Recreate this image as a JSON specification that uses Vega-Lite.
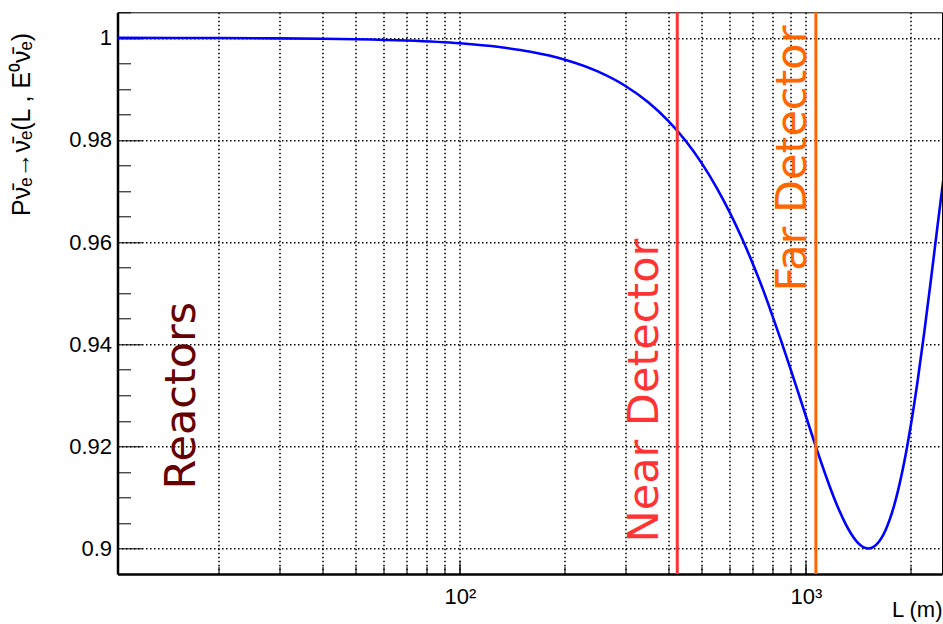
{
  "$schema": "https://vega.github.io/schema/vega-lite/v6.json",
  "width": 824.5,
  "height": 561.7,
  "autosize": "none",
  "padding": {"left": 117.5, "top": 12.3, "right": 1, "bottom": 50},
  "background": "white",
  "config": {
    "view": {"stroke": "#000", "strokeWidth": 1},
    "axis": {
      "tickColor": "#000",
      "domainColor": "#000",
      "labelColor": "#000",
      "titleColor": "#000",
      "labelFont": "Liberation Sans",
      "titleFont": "Liberation Sans",
      "labelFontSize": 22,
      "titleFontSize": 22,
      "titleFontWeight": "normal",
      "labelOverlap": false
    }
  },
  "datasets": {
    "curve": [
      {"L": 10, "P": 0.99999}, {"L": 15, "P": 0.99998}, {"L": 20, "P": 0.99996},
      {"L": 30, "P": 0.9999}, {"L": 40, "P": 0.99983}, {"L": 50, "P": 0.99973},
      {"L": 70, "P": 0.99947}, {"L": 100, "P": 0.99893}, {"L": 130, "P": 0.99819},
      {"L": 160, "P": 0.99727}, {"L": 200, "P": 0.99576}, {"L": 250, "P": 0.99342},
      {"L": 300, "P": 0.99062}, {"L": 350, "P": 0.98738}, {"L": 400, "P": 0.98374},
      {"L": 450, "P": 0.97974}, {"L": 500, "P": 0.97542}, {"L": 550, "P": 0.97083},
      {"L": 600, "P": 0.96602}, {"L": 650, "P": 0.96105}, {"L": 700, "P": 0.95596},
      {"L": 750, "P": 0.95083}, {"L": 800, "P": 0.94555}, {"L": 850, "P": 0.94041},
      {"L": 900, "P": 0.93538}, {"L": 950, "P": 0.93051}, {"L": 1000, "P": 0.92584},
      {"L": 1050, "P": 0.92144}, {"L": 1100, "P": 0.91734}, {"L": 1150, "P": 0.9136},
      {"L": 1200, "P": 0.91024}, {"L": 1250, "P": 0.90732}, {"L": 1300, "P": 0.90485},
      {"L": 1350, "P": 0.90287}, {"L": 1400, "P": 0.90139}, {"L": 1450, "P": 0.90044},
      {"L": 1500, "P": 0.90002}, {"L": 1514, "P": 0.9}, {"L": 1550, "P": 0.90014},
      {"L": 1600, "P": 0.90079}, {"L": 1650, "P": 0.90198}, {"L": 1700, "P": 0.90368},
      {"L": 1750, "P": 0.90588}, {"L": 1800, "P": 0.90855}, {"L": 1850, "P": 0.91167},
      {"L": 1900, "P": 0.9152}, {"L": 1950, "P": 0.9191}, {"L": 2000, "P": 0.92334},
      {"L": 2100, "P": 0.93263}, {"L": 2200, "P": 0.94266}, {"L": 2300, "P": 0.953},
      {"L": 2400, "P": 0.96321}, {"L": 2500, "P": 0.97282}
    ],
    "detectors": [
      {"name": "Near Detector", "L": 424.6},
      {"name": "Far Detector", "L": 1068}
    ],
    "labels": [
      {"name": "Reactors", "L": 17.1, "P": 0.91155},
      {"name": "Near Detector", "L": 374, "P": 0.90117},
      {"name": "Far Detector", "L": 1000, "P": 0.95032}
    ]
  },
  "layer": [
    {
      "data": {"name": "curve"},
      "mark": {"type": "line", "color": "#0000ff", "strokeWidth": 2.6, "clip": true, "interpolate": "monotone"},
      "encoding": {
        "x": {
          "field": "L", "type": "quantitative",
          "scale": {"type": "log", "domain": [10.24, 2472], "nice": false},
          "axis": {
            "orient": "bottom",
            "values": [20, 30, 40, 50, 60, 70, 80, 90, 100, 200, 300, 400, 500, 600, 700, 800, 900, 1000, 2000],
            "grid": true, "gridColor": "#000", "gridDash": [1.5, 2.5], "gridWidth": 1.5, "gridOpacity": 1,
            "tickSize": -8, "tickWidth": 1, "domainWidth": 2.5,
            "labelExpr": "datum.value == 100 ? '10²' : datum.value == 1000 ? '10³' : ''",
            "labelPadding": 20,
            "title": "L (m)", "titleAnchor": "end", "titleAlign": "right", "titleBaseline": "alphabetic",
            "titleX": 824.5, "titleY": 42
          }
        },
        "y": {
          "field": "P", "type": "quantitative",
          "scale": {"domain": [0.895, 1.005], "nice": false, "zero": false},
          "axis": {
            "orient": "left",
            "values": [0.9, 0.92, 0.94, 0.96, 0.98, 1.0],
            "grid": true, "gridColor": "#000", "gridDash": [1.5, 2.5], "gridWidth": 1.5, "gridOpacity": 1,
            "tickSize": -24, "tickWidth": 1, "domainWidth": 2.5,
            "format": ".2~f", "labelPadding": 30,
            "title": "Pν̄ₑ→ν̄ₑ(L , E⁰ν̄ₑ)", "titleFontSize": 25, "titleAngle": 270, "titleAlign": "right", "titleBaseline": "alphabetic",
            "titleX": -88, "titleY": 20
          }
        }
      }
    },
    {
      "data": {"name": "detectors"},
      "mark": {"type": "rule", "strokeWidth": 3},
      "encoding": {
        "x": {
          "field": "L", "type": "quantitative",
          "scale": {"type": "log", "domain": [10.24, 2472], "nice": false},
          "axis": {"orient": "bottom", "values": [100, 1000], "tickSize": -14, "tickWidth": 1, "labels": false, "grid": false, "domain": false, "title": null}
        },
        "color": {
          "field": "name", "type": "nominal",
          "scale": {"domain": ["Reactors", "Near Detector", "Far Detector"], "range": ["#660000", "#ff3333", "#ff6600"]},
          "legend": null
        }
      }
    },
    {
      "data": {"name": "labels"},
      "mark": {"type": "text", "angle": 270, "align": "left", "baseline": "alphabetic", "font": "DejaVu Sans", "fontSize": 43},
      "encoding": {
        "x": {"field": "L", "type": "quantitative", "scale": {"type": "log", "domain": [10.24, 2472], "nice": false}, "axis": null},
        "y": {
          "field": "P", "type": "quantitative",
          "scale": {"domain": [0.895, 1.005], "nice": false, "zero": false},
          "axis": {
            "orient": "left",
            "values": [0.905, 0.91, 0.915, 0.925, 0.93, 0.935, 0.945, 0.95, 0.955, 0.965, 0.97, 0.975, 0.985, 0.99, 0.995, 1.005],
            "tickSize": -13, "tickWidth": 1, "labels": false, "grid": false, "domain": false, "title": null
          }
        },
        "text": {"field": "name"},
        "color": {
          "field": "name", "type": "nominal",
          "scale": {"domain": ["Reactors", "Near Detector", "Far Detector"], "range": ["#660000", "#ff3333", "#ff6600"]},
          "legend": null
        }
      }
    }
  ],
  "resolve": {"axis": {"x": "independent", "y": "independent"}}
}
